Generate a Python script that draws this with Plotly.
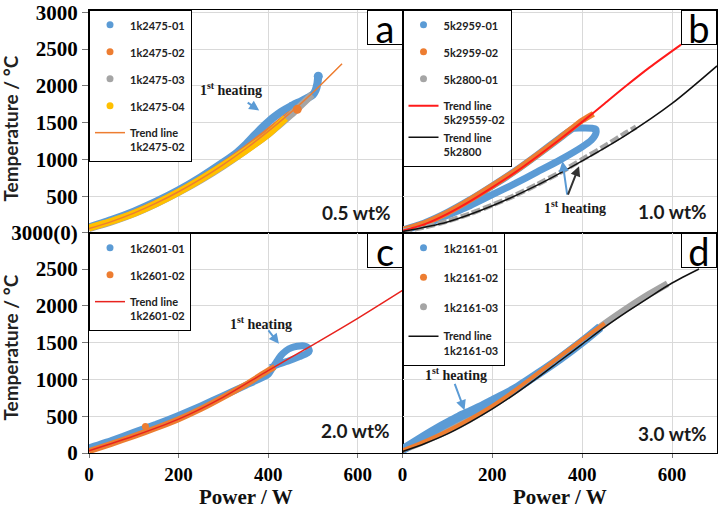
import plotly.graph_objects as go

BLUE = "#5B9BD5"
ORANGE = "#ED7D31"
GRAY = "#A5A5A5"
YELLOW = "#FFC000"
RED = "#FF1A1A"
BLACK = "#111111"

# ---------------- panel a : 0.5 wt% ----------------
a_trend_w = [0, 50, 100, 150, 200, 250, 300, 350, 400, 450, 500, 565]
a_trend_t = [60, 155, 270, 405, 560, 735, 930, 1145, 1380, 1635, 1910, 2300]
a_s1_w = [0, 50, 100, 150, 200, 250, 300, 330, 350, 370, 390, 410, 430, 450, 470, 490, 500, 506, 510, 512]
a_s1_t = [75, 175, 290, 425, 580, 760, 960, 1090, 1200, 1330, 1450, 1560, 1650, 1720, 1780, 1840, 1880, 1940, 2030, 2130]
a_s2_w = [0, 50, 100, 150, 200, 250, 300, 350, 400, 440, 465]
a_s2_t = [65, 160, 275, 410, 565, 740, 935, 1150, 1385, 1580, 1680]
a_s3_w = [0, 50, 100, 150, 200, 250, 300, 350, 400, 450, 498]
a_s3_t = [60, 150, 260, 395, 550, 720, 910, 1120, 1340, 1600, 1880]
a_s4_w = [0, 25, 50, 75, 100, 150, 200, 250, 300, 350, 400, 439]
a_s4_t = [70, 115, 160, 210, 265, 400, 555, 730, 920, 1120, 1340, 1560]

# ---------------- panel b : 1.0 wt% ----------------
b_red_w = [0, 50, 100, 150, 200, 250, 300, 350, 400, 450, 500, 550, 620]
b_red_t = [30, 120, 260, 430, 620, 820, 1040, 1270, 1510, 1760, 2010, 2250, 2560]
b_blk_w = [0, 100, 200, 300, 400, 500, 600, 700]
b_blk_t = [20, 150, 370, 650, 980, 1340, 1760, 2270]
b_s1_w = [0, 50, 100, 150, 200, 250, 300, 350, 400, 420, 428, 431, 430, 422, 400, 380,
          350, 300, 250, 200, 150, 100, 50, 0]
b_s1_t = [35, 115, 240, 370, 520, 670, 830, 990, 1170, 1260, 1320, 1370, 1410, 1422, 1425, 1420,
          1290, 1060, 840, 640, 450, 280, 140, 40]
b_s2_w = [0, 50, 100, 150, 200, 250, 300, 350, 400, 425]
b_s2_t = [40, 135, 275, 450, 640, 840, 1060, 1290, 1530, 1620]
b_s3_w = [0, 50, 100, 150, 200, 250, 300, 350, 400, 450, 500, 520]
b_s3_t = [30, 80, 160, 260, 380, 510, 660, 820, 1000, 1180, 1370, 1440]

# ---------------- panel c : 2.0 wt% ----------------
c_red_w = [0, 100, 200, 300, 400, 500, 600, 700]
c_red_t = [30, 230, 460, 760, 1120, 1470, 1830, 2210]
c_s1_w = [0, 50, 100, 150, 200, 250, 300, 350, 400, 410, 418, 428, 440, 452, 465, 480, 489, 492,
          488, 470, 445, 420, 405]
c_s1_t = [70, 170, 280, 390, 510, 640, 780, 920, 1070, 1160, 1230, 1320, 1390, 1430, 1450, 1455,
          1430, 1390, 1360, 1310, 1250, 1200, 1160]
c_s2_w = [0, 50, 100, 150, 200, 250, 300, 350, 400, 415]
c_s2_t = [25, 125, 230, 340, 460, 600, 760, 930, 1120, 1170]
c_s2_out_w = [126]
c_s2_out_t = [360]

# ---------------- panel d : 3.0 wt% ----------------
d_blk_w = [0, 50, 100, 150, 200, 250, 300, 350, 400, 450, 500, 550, 600, 660]
d_blk_t = [20, 130, 260, 420, 600, 800, 1020, 1250, 1480, 1710, 1920, 2120, 2310, 2500]
d_s1_w = [0, 25, 50, 75, 100, 125, 150, 175, 200, 250, 300, 350, 400, 440]
d_s1_t = [45, 140, 235, 325, 410, 490, 560, 630, 710, 870, 1070, 1280, 1510, 1710]
d_s2_w = [0, 50, 100, 150, 200, 250, 300, 350, 400, 450]
d_s2_t = [35, 160, 300, 460, 640, 850, 1080, 1310, 1540, 1760]
d_s3_w = [0, 50, 100, 150, 200, 250, 300, 350, 400, 450, 500, 550, 590]
d_s3_t = [40, 165, 300, 460, 645, 845, 1065, 1295, 1525, 1755, 1965, 2160, 2300]

fig = go.Figure()


def band(x, y, color, width, xa, ya, dash=None, smoothing=0.6):
    line = dict(color=color, width=width, dash=dash, shape="spline", smoothing=smoothing)
    fig.add_trace(go.Scatter(x=x, y=y, mode="lines", line=line,
                             showlegend=False, hoverinfo="skip", xaxis=xa, yaxis=ya))


def dot(name, color, legend, xa, ya):
    fig.add_trace(go.Scatter(x=[None], y=[None], mode="markers", marker=dict(color=color, size=7),
                             name=name, legend=legend, legendgroup=legend + name,
                             xaxis=xa, yaxis=ya))


def trend(x, y, name, color, width, legend, group, xa, ya):
    fig.add_trace(go.Scatter(x=x, y=y, mode="lines",
                             line=dict(color=color, width=width, shape="spline", smoothing=0.8),
                             name=name, legend=legend, legendgroup=group,
                             hoverinfo="skip", xaxis=xa, yaxis=ya))


# panel a
dot("1k2475-01", BLUE, "legend", "x", "y")
dot("1k2475-02", ORANGE, "legend", "x", "y")
dot("1k2475-03", GRAY, "legend", "x", "y")
dot("1k2475-04", YELLOW, "legend", "x", "y")
band(a_s1_w, a_s1_t, BLUE, 8, "x", "y", smoothing=0.4)
band(a_s2_w, a_s2_t, ORANGE, 6, "x", "y")
band(a_s3_w, a_s3_t, GRAY, 7, "x", "y")
band(a_s4_w, a_s4_t, YELLOW, 7, "x", "y")
fig.add_trace(go.Scatter(x=a_s2_w[-1:], y=a_s2_t[-1:], mode="markers", marker=dict(color=ORANGE, size=9),
                         showlegend=False, hoverinfo="skip", xaxis="x", yaxis="y"))
fig.add_trace(go.Scatter(x=a_s1_w[-1:], y=a_s1_t[-1:], mode="markers", marker=dict(color=BLUE, size=9),
                         showlegend=False, hoverinfo="skip", xaxis="x", yaxis="y"))
trend(a_trend_w, a_trend_t, "Trend line<br>1k2475-02", ORANGE, 1.5, "legend", "at", "x", "y")

# panel b
dot("5k2959-01", BLUE, "legend2", "x2", "y2")
dot("5k2959-02", ORANGE, "legend2", "x2", "y2")
dot("5k2800-01", GRAY, "legend2", "x2", "y2")
band(b_s1_w, b_s1_t, BLUE, 7, "x2", "y2", smoothing=0.5)
band(b_s2_w, b_s2_t, ORANGE, 6, "x2", "y2")
band(b_s3_w, b_s3_t, GRAY, 5, "x2", "y2", dash="9px,3px")
trend(b_red_w, b_red_t, "Trend line<br>5k29559-02", RED, 2, "legend2", "bt", "x2", "y2")
trend(b_blk_w, b_blk_t, "Trend line<br>5k2800", BLACK, 1.5, "legend2", "bt", "x2", "y2")

# panel c
dot("1k2601-01", BLUE, "legend3", "x3", "y3")
dot("1k2601-02", ORANGE, "legend3", "x3", "y3")
band(c_s1_w, c_s1_t, BLUE, 7, "x3", "y3", smoothing=0.5)
band(c_s2_w, c_s2_t, ORANGE, 6, "x3", "y3")
fig.add_trace(go.Scatter(x=c_s2_out_w, y=c_s2_out_t, mode="markers", marker=dict(color=ORANGE, size=7),
                         showlegend=False, hoverinfo="skip", xaxis="x3", yaxis="y3"))
trend(c_red_w, c_red_t, "Trend line<br>1k2601-02", "#E8231E", 1.5, "legend3", "ct", "x3", "y3")

# panel d
dot("1k2161-01", BLUE, "legend4", "x4", "y4")
dot("1k2161-02", ORANGE, "legend4", "x4", "y4")
dot("1k2161-03", GRAY, "legend4", "x4", "y4")
band(d_s3_w, d_s3_t, GRAY, 7, "x4", "y4")
band(d_s1_w, d_s1_t, BLUE, 9, "x4", "y4")
band(d_s2_w, d_s2_t, ORANGE, 4, "x4", "y4")
trend(d_blk_w, d_blk_t, "Trend line<br>1k2161-03", BLACK, 1.5, "legend4", "dt", "x4", "y4")

XL = [0, 314 / 629]
XR = [314 / 629, 1]
YB = [0, 221 / 445]
YT = [221 / 445, 1]

tick_serif = dict(family="Liberation Serif", size=21, color="black", weight="bold")
x_common = dict(range=[0, 700], tickvals=[0, 200, 400, 600], showgrid=True, gridcolor="#D9D9D9",
                gridwidth=1, showline=True, linecolor="black", linewidth=1, mirror=True,
                zeroline=False, fixedrange=True)
y_common = dict(showgrid=True, gridcolor="#D9D9D9", gridwidth=1, showline=True, linecolor="black",
                linewidth=1, mirror=True, zeroline=False, fixedrange=True, ticklabeloverflow="allow")

top_vals = [0, 500, 1000, 1500, 2000, 2500, 3000]
top_text = ["3000(0)", "500", "1000", "1500", "2000", "2500", "3000"]
bot_vals = [0, 500, 1000, 1500, 2000, 2500]

fig.update_layout(
    xaxis=dict(domain=XL, anchor="y", showticklabels=False, ticks="", **x_common),
    yaxis=dict(domain=YT, anchor="x", range=[0, 3030], tickvals=top_vals, ticktext=top_text,
               ticks="outside", ticklen=6, tickcolor="#777", tickfont=tick_serif, **y_common),
    xaxis2=dict(domain=XR, anchor="y2", showticklabels=False, ticks="", **x_common),
    yaxis2=dict(domain=YT, anchor="x2", range=[0, 3030], tickvals=top_vals, showticklabels=False,
                ticks="", **y_common),
    xaxis3=dict(domain=XL, anchor="y3", ticks="outside", ticklen=4, tickcolor="#777",
                tickfont=dict(family="Liberation Serif", size=19, color="black", weight="bold"), **x_common),
    yaxis3=dict(domain=YB, anchor="x3", range=[0, 2990], tickvals=bot_vals,
                ticks="outside", ticklen=6, tickcolor="#777", tickfont=tick_serif, **y_common),
    xaxis4=dict(domain=XR, anchor="y4", ticks="outside", ticklen=4, tickcolor="#777",
                tickfont=dict(family="Liberation Serif", size=19, color="black", weight="bold"), **x_common),
    yaxis4=dict(domain=YB, anchor="x4", range=[0, 2990], tickvals=bot_vals, showticklabels=False,
                ticks="", **y_common),
)


def legend_cfg(x, y, gap):
    return dict(x=x, y=y, xanchor="left", yanchor="top", bgcolor="white", bordercolor="black",
                borderwidth=1, font=dict(family="Lato", size=11, color="#222", weight="bold"),
                traceorder="grouped", tracegroupgap=gap, itemwidth=30, valign="top")


fig.update_layout(
    legend=legend_cfg(0, 1, 8),
    legend2=legend_cfg(314 / 629, 1, 8),
    legend3=legend_cfg(0, 221 / 445, 8),
    legend4=legend_cfg(314 / 629, 221 / 445, 10.5),
)

ann = []
# panel letters
for letter, xr, yr in [("a", "x", "y"), ("b", "x2", "y2"), ("c", "x3", "y3"), ("d", "x4", "y4")]:
    ann.append(dict(text=letter, xref=xr + " domain", yref=yr + " domain", x=1, y=1,
                    xanchor="right", yanchor="top", showarrow=False, width=34, height=33,
                    bgcolor="white", bordercolor="black", borderwidth=1, borderpad=0,
                    font=dict(family="Lato", size=38, color="black")))
# concentrations
for txt, xr, yr, xv, yv in [("0.5 wt%", "x", "y", 678, 284), ("1.0 wt%", "x2", "y2", 682, 298),
                            ("2.0 wt%", "x3", "y3", 676, 311), ("3.0 wt%", "x4", "y4", 682, 270)]:
    ann.append(dict(text=txt, xref=xr, yref=yr, x=xv, y=yv, xanchor="right", yanchor="middle",
                    showarrow=False, font=dict(family="Lato", size=19, color="#1a1a1a", weight="bold")))
# 1st heating labels
heat_font = dict(family="Liberation Serif", size=14, color="#1a1a1a", weight="bold")
for xr, yr, xv, yv in [("x", "y", 318, 1962), ("x2", "y2", 384, 352), ("x3", "y3", 383, 1773),
                       ("x4", "y4", 118, 1069)]:
    ann.append(dict(text="1<sup>st</sup> heating", xref=xr, yref=yr, x=xv, y=yv, showarrow=False,
                    xanchor="center", yanchor="middle", font=heat_font))
# arrows
for xr, yr, hx, hy, tx, ty, col in [("x", "y", 380, 1664, 351, 1786, BLUE),
                                    ("x2", "y2", 356, 974, 367, 500, BLUE),
                                    ("x2", "y2", 393, 907, 367, 500, "#333333"),
                                    ("x3", "y3", 424, 1484, 398, 1687, BLUE),
                                    ("x4", "y4", 138, 582, 115, 961, BLUE)]:
    ann.append(dict(text="", xref=xr, yref=yr, x=hx, y=hy, axref=xr, ayref=yr, ax=tx, ay=ty,
                    showarrow=True, arrowhead=2, arrowsize=1, arrowwidth=2, arrowcolor=col))
# axis titles
ytitle_font = dict(family="Lato", size=19, color="#222", weight="bold")
for yv in [(453 - 127) / 445, (453 - 347) / 445]:
    ann.append(dict(text="Temperature / °C", xref="paper", yref="paper", x=(10 - 89) / 629, y=yv,
                    textangle=-90, showarrow=False, xanchor="center", yanchor="middle", font=ytitle_font))
xtitle_font = dict(family="Liberation Serif", size=21, color="#111", weight="bold")
for xv, yv in [((246 - 89) / 629, (453 - 497) / 445), ((561 - 89) / 629, (453 - 497) / 445)]:
    ann.append(dict(text="Power / W", xref="paper", yref="paper", x=xv, y=yv, showarrow=False,
                    xanchor="center", yanchor="middle", font=xtitle_font))

fig.update_layout(
    annotations=ann,
    width=719, height=514,
    margin=dict(l=89, r=1, t=8, b=61),
    plot_bgcolor="white", paper_bgcolor="white",
)

fig.write_html("out.html")
